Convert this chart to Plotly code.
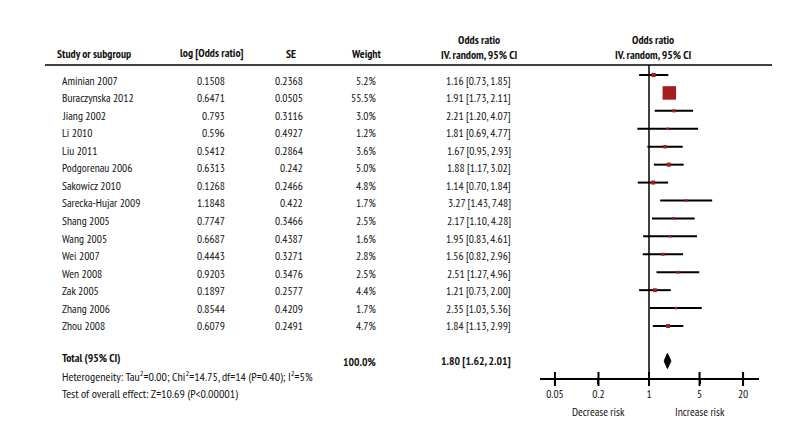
import math
import plotly.graph_objects as go

# data
studies = ["Aminian 2007", "Buraczynska 2012", "Jiang 2002", "Li 2010", "Liu 2011",
           "Podgorenau 2006", "Sakowicz 2010", "Sarecka-Hujar 2009", "Shang 2005",
           "Wang 2005", "Wei 2007", "Wen 2008", "Zak 2005", "Zhang 2006", "Zhou 2008"]
log_or = [0.1508, 0.6471, 0.793, 0.596, 0.5412, 0.6313, 0.1268, 1.1848, 0.7747,
          0.6687, 0.4443, 0.9203, 0.1897, 0.8544, 0.6079]
se = [0.2368, 0.0505, 0.3116, 0.4927, 0.2864, 0.242, 0.2466, 0.422, 0.3466,
      0.4387, 0.3271, 0.3476, 0.2577, 0.4209, 0.2491]
weight = [5.2, 55.5, 3.0, 1.2, 3.6, 5.0, 4.8, 1.7, 2.5, 1.6, 2.8, 2.5, 4.4, 1.7, 4.7]
or_val = [1.16, 1.91, 2.21, 1.81, 1.67, 1.88, 1.14, 3.27, 2.17, 1.95, 1.56, 2.51, 1.21, 2.35, 1.84]
ci_lo = [0.73, 1.73, 1.20, 0.69, 0.95, 1.17, 0.70, 1.43, 1.10, 0.83, 0.82, 1.27, 0.73, 1.03, 1.13]
ci_hi = [1.85, 2.11, 4.07, 4.77, 2.93, 3.02, 1.84, 7.48, 4.28, 4.61, 2.96, 4.96, 2.00, 5.36, 2.99]
total_or, total_lo, total_hi, total_w = 1.80, 1.62, 2.01, 100.0
tick_vals = [0.05, 0.2, 1, 5, 20]
tick_text = ["0.05", "0.2", "1", "5", "20"]

W, H = 792, 432
FONT = "PT Sans Narrow, Roboto Condensed, Fira Sans Condensed, Liberation Sans, sans-serif"
FS = 11.5
RED = "#a51d21"
INK = "#111111"

# vertical unit: y pixel = Y0 + DY * row  (text rows)
Y0, DY = 72.0, 17.57
def row_of(px):
    return (px - Y0) / DY

rows = list(range(len(studies)))
# the forest graphics run on a slightly different pitch than the text
G0, GD = 67.0, 17.93
g_rows = [row_of(G0 + GD * i) for i in rows]
total_row = row_of(353)
axis_px = 371.0
axis_row = row_of(axis_px)
head_line_row = row_of(57)

fig = go.Figure()

# confidence interval lines
cx, cy = [], []
for lo, hi, r in zip(ci_lo, ci_hi, g_rows):
    cx += [lo, hi, None]
    cy += [r, r, None]
fig.add_trace(go.Scatter(x=cx, y=cy, mode="lines", line=dict(color="black", width=2),
                         hoverinfo="skip", showlegend=False))

# weighted squares
sizes = [max(2.5, 13.5 * math.sqrt(w / 55.5)) for w in weight]
fig.add_trace(go.Scatter(x=or_val, y=g_rows, mode="markers",
                         marker=dict(symbol="square", size=sizes, color=RED, opacity=1,
                                     line=dict(width=0)),
                         showlegend=False))

# pooled diamond
dh = 0.43
fig.add_trace(go.Scatter(x=[total_lo, total_or, total_hi, total_or, total_lo],
                         y=[total_row, total_row - dh, total_row, total_row + dh, total_row],
                         mode="lines", fill="toself", fillcolor="black",
                         line=dict(color="black", width=1), showlegend=False))

# tick marks crossing the axis line
fig.add_trace(go.Scatter(x=tick_vals, y=[axis_row] * len(tick_vals), mode="markers",
                         marker=dict(symbol="line-ns", size=10, opacity=1,
                                     line=dict(color="black", width=2)),
                         cliponaxis=False, showlegend=False))

# line of no effect
fig.add_shape(type="line", xref="x", yref="y", x0=1, x1=1, y0=head_line_row, y1=axis_row,
              line=dict(color="black", width=1.5))
# header rule
fig.add_shape(type="line", xref="paper", yref="y", x0=37 / W, x1=764 / W,
              y0=head_line_row, y1=head_line_row, line=dict(color="black", width=1.5))

def txt(x_px, row, s, anchor="left", bold=False, size=FS):
    if bold:
        s = "<b>" + s + "</b>"
    fig.add_annotation(x=x_px / W, y=row, xref="paper", yref="y", text=s, showarrow=False,
                       xanchor=anchor, yanchor="middle", align="center",
                       font=dict(family=FONT, size=size, color=INK))

# headers
hr = row_of(45)
txt(47, hr, "Study or subgroup", bold=True)
txt(204, hr, "log [Odds ratio]", "center", bold=True)
txt(283, hr, "SE", "center", bold=True)
txt(358, hr, "Weight", "center", bold=True)
txt(471, row_of(39), "Odds ratio<br>IV. random, 95% CI", "center", bold=True)
txt(645, row_of(39), "Odds ratio<br>IV. random, 95% CI", "center", bold=True)

# study rows
for i, name in enumerate(studies):
    txt(52, i, name)
    txt(219, i, str(log_or[i]), "right")
    txt(297, i, str(se[i]), "right")
    txt(370, i, f"{weight[i]:.1f}%", "right")
    txt(505, i, f"{or_val[i]:.2f} [{ci_lo[i]:.2f}, {ci_hi[i]:.2f}]", "right")

# totals
txt(52, row_of(349), "Total (95% CI)", bold=True)
txt(370, total_row, f"{total_w:.1f}%", "right", bold=True)
txt(505, total_row, f"{total_or:.2f} [{total_lo:.2f}, {total_hi:.2f}]", "right", bold=True)
txt(52, row_of(367), "Heterogeneity: Tau<sup>2</sup>=0.00; Chi<sup>2</sup>=14.75, df=14 (P=0.40); I<sup>2</sup>=5%", size=12)
txt(52, row_of(385), "Test of overall effect: Z=10.69 (P&lt;0.00001)", size=12)

# axis direction labels
for v, s in [(0.2, "Decrease risk"), (5, "Increase risk")]:
    fig.add_annotation(x=math.log10(v), y=row_of(403), xref="x", yref="y", text=s,
                       showarrow=False, xanchor="center", yanchor="middle",
                       font=dict(family=FONT, size=FS, color=INK))

px_per_dec = 72.3
fig.update_layout(
    width=W, height=H, margin=dict(l=0, r=0, t=0, b=0),
    paper_bgcolor="white", plot_bgcolor="white",
    font=dict(family=FONT, size=FS, color=INK),
    xaxis=dict(type="log", domain=[532 / W, 751 / W],
               range=[-(641 - 532) / px_per_dec, (751 - 641) / px_per_dec],
               anchor="free", position=(H - axis_px) / H,
               showline=True, linecolor="black", linewidth=2,
               showgrid=False, zeroline=False,
               tickvals=tick_vals, ticktext=tick_text,
               ticks="outside", ticklen=4, tickwidth=2, tickcolor="black",
               tickfont=dict(family=FONT, size=FS, color=INK)),
    yaxis=dict(domain=[0, 1], range=[row_of(H), row_of(0)], visible=False),
    showlegend=False,
)

fig.write_html("out.html")
